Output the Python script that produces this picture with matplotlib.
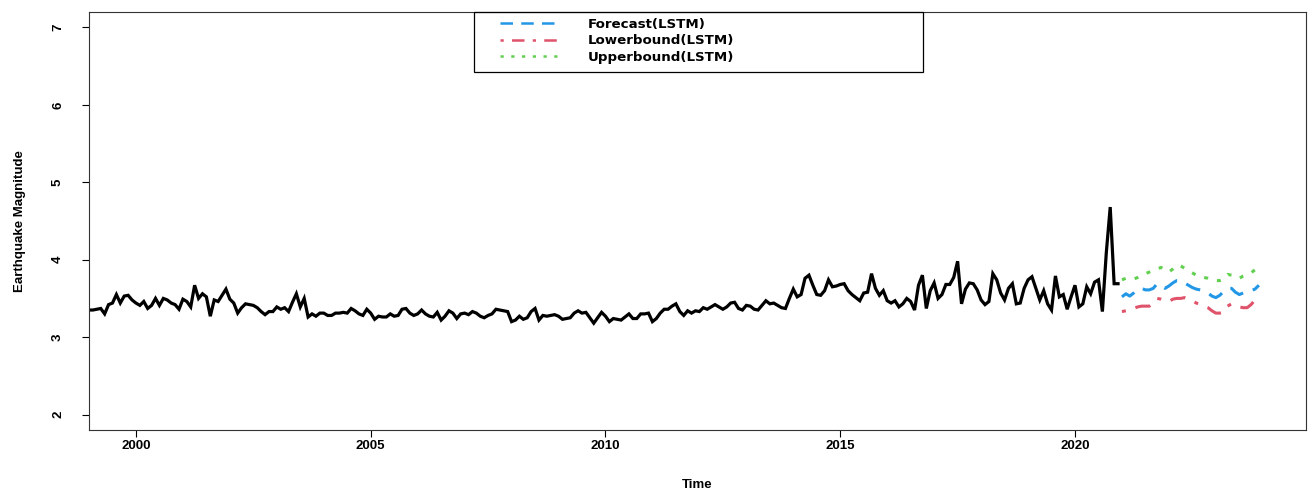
import numpy as np
import matplotlib
matplotlib.use('Agg')
import matplotlib.pyplot as plt
from matplotlib.patches import Rectangle

plt.rcParams['font.family'] = ['Liberation Sans', 'DejaVu Sans']
plt.rcParams['font.weight'] = 'bold'

# monthly observed magnitudes, Jan 1999 .. Dec 2020
observed = [
    3.35, 3.35, 3.36, 3.37, 3.30, 3.42, 3.44, 3.55, 3.44, 3.53,
    3.54, 3.48, 3.44, 3.41, 3.46, 3.37, 3.41, 3.50, 3.41, 3.50,
    3.48, 3.44, 3.42, 3.36, 3.49, 3.46, 3.39, 3.67, 3.50, 3.56,
    3.52, 3.27, 3.48, 3.46, 3.54, 3.62, 3.49, 3.44, 3.31, 3.38,
    3.43, 3.42, 3.41, 3.38,
    3.33, 3.29, 3.33, 3.33, 3.39, 3.36, 3.38, 3.33, 3.45, 3.56,
    3.39, 3.50, 3.26, 3.30, 3.27, 3.31, 3.31, 3.28, 3.28, 3.31,
    3.31, 3.32, 3.31, 3.37, 3.34, 3.30, 3.28, 3.36, 3.31, 3.23,
    3.27, 3.26, 3.26, 3.30, 3.27, 3.28, 3.36, 3.37, 3.31, 3.28,
    3.30, 3.35, 3.30,
    3.27, 3.26, 3.32, 3.22, 3.27, 3.34, 3.31, 3.24, 3.30, 3.31,
    3.29, 3.33, 3.31, 3.27, 3.25, 3.28, 3.30, 3.36, 3.35, 3.34,
    3.33, 3.20, 3.22, 3.27, 3.23, 3.25, 3.33, 3.37, 3.22, 3.28,
    3.27, 3.28, 3.29, 3.27, 3.23, 3.24, 3.25, 3.31, 3.34, 3.31,
    3.32, 3.25, 3.18, 3.25,
    3.32, 3.27, 3.20, 3.24, 3.23, 3.22, 3.26, 3.30, 3.24, 3.24,
    3.30, 3.30, 3.31, 3.20, 3.24, 3.31, 3.36, 3.36, 3.40, 3.43,
    3.33, 3.28, 3.34, 3.31, 3.34, 3.33, 3.38, 3.36, 3.39, 3.42,
    3.39, 3.36, 3.39, 3.44, 3.45, 3.37, 3.35, 3.41, 3.40, 3.36,
    3.35, 3.41, 3.47,
    3.43, 3.44, 3.41, 3.38, 3.37, 3.50, 3.62, 3.52, 3.55, 3.76,
    3.80, 3.67, 3.55, 3.54, 3.60, 3.74, 3.65, 3.66, 3.68, 3.69,
    3.60, 3.55, 3.51, 3.47, 3.57, 3.58, 3.82, 3.63, 3.54, 3.60,
    3.47, 3.44, 3.47, 3.39, 3.43, 3.50, 3.46, 3.35, 3.67, 3.80,
    3.37, 3.60,
    3.70, 3.50, 3.55, 3.68, 3.68, 3.77, 3.98, 3.43, 3.62, 3.70,
    3.69, 3.61, 3.48, 3.42, 3.46, 3.82, 3.74, 3.57, 3.48, 3.63,
    3.69, 3.43, 3.44, 3.63, 3.74, 3.78, 3.63, 3.48, 3.60, 3.43,
    3.35, 3.79, 3.52, 3.55, 3.36, 3.52, 3.67, 3.39, 3.43, 3.65,
    3.56, 3.71, 3.74, 3.33, 4.09, 4.68, 3.69, 3.69,
]

# LSTM forecast, Jan 2021 .. Dec 2023
forecast = [
    3.52, 3.56, 3.53, 3.57, 3.62, 3.63, 3.61, 3.61, 3.63, 3.69,
    3.66, 3.63, 3.66, 3.70, 3.73, 3.73, 3.70, 3.67, 3.64, 3.62,
    3.61, 3.59, 3.57, 3.53, 3.51, 3.54, 3.59, 3.63, 3.63, 3.58,
    3.55, 3.57, 3.59, 3.60, 3.62, 3.67,
]
lower = [
    3.33, 3.34, 3.36, 3.37, 3.39, 3.40, 3.40, 3.40, 3.44, 3.50,
    3.49, 3.47, 3.46, 3.49, 3.50, 3.50, 3.51, 3.49, 3.47, 3.44,
    3.42, 3.40, 3.38, 3.34, 3.31, 3.31, 3.32, 3.40, 3.43, 3.41,
    3.39, 3.38, 3.38, 3.42, 3.48, 3.47,
]
upper = [
    3.74, 3.76, 3.76, 3.75, 3.77, 3.80, 3.82, 3.84, 3.86, 3.88,
    3.90, 3.87, 3.84, 3.88, 3.93, 3.92, 3.89, 3.86, 3.83, 3.80,
    3.79, 3.77, 3.76, 3.74, 3.73, 3.73, 3.75, 3.81, 3.80, 3.77,
    3.76, 3.79, 3.81, 3.83, 3.87, 3.89,
]

obs_start = 1999.0
fc_start = 2021.0
x_ticks = [2000, 2005, 2010, 2015, 2020]
y_ticks = [2, 3, 4, 5, 6, 7]

t_obs = obs_start + np.arange(len(observed)) / 12.0
t_fc = fc_start + np.arange(len(forecast)) / 12.0

W, H = 1309, 492
fig = plt.figure(figsize=(W / 100, H / 100), dpi=100)
ax = fig.add_axes([89 / W, 1 - 430 / H, (1306 - 89) / W, (430 - 12) / H])

ax.plot(t_obs, observed, color='black', lw=2.3, solid_joinstyle='miter')
l1, = ax.plot(t_fc, forecast, color='#2297E6', lw=2.2, linestyle=(0, (5, 3.3)))
l2, = ax.plot(t_fc, lower, color='#DF536B', lw=2.2, linestyle=(0, (1.3, 3.3, 5, 3.3)))
l3, = ax.plot(t_fc, upper, color='#61D04F', lw=2.2, linestyle=(0, (1.3, 3)))

ax.set_xlim(1999.0, 2024.92)
ax.set_ylim(1.8, 7.2)
ax.set_xticks(x_ticks)
ax.set_yticks(y_ticks)
ax.set_xticklabels([str(v) for v in x_ticks], fontsize=9.5, fontweight='bold')
ax.set_yticklabels([str(v) for v in y_ticks], fontsize=9.5, fontweight='bold',
                   rotation=90, va='center')
ax.tick_params(axis='x', length=5, width=0.8, pad=2)
ax.tick_params(axis='y', length=5, width=0.8, pad=13)
for s in ax.spines.values():
    s.set_linewidth(0.8)
    s.set_color('#333333')

ax.set_xlabel('Time', fontsize=9.5, fontweight='bold', labelpad=20)
ax.set_ylabel('Earthquake Magnitude', fontsize=9.5, fontweight='bold', labelpad=19)

leg = fig.legend([l1, l2, l3], ['Forecast(LSTM)', 'Lowerbound(LSTM)', 'Upperbound(LSTM)'],
                 loc='upper left', bbox_to_anchor=(500 / W, 1 - 18 / H),
                 frameon=False, borderpad=0, borderaxespad=0,
                 handlelength=4.6, handletextpad=2.0, labelspacing=0.25,
                 prop={'family': 'DejaVu Sans', 'size': 9.6, 'weight': 'bold'})
for h in leg.get_lines():
    h.set_linewidth(1.8)
fig.add_artist(Rectangle((474 / W, 1 - 72 / H), 449 / W, 60 / H,
                         transform=fig.transFigure, fill=False,
                         edgecolor='black', lw=0.9))

fig.savefig('out.png', dpi=100)
